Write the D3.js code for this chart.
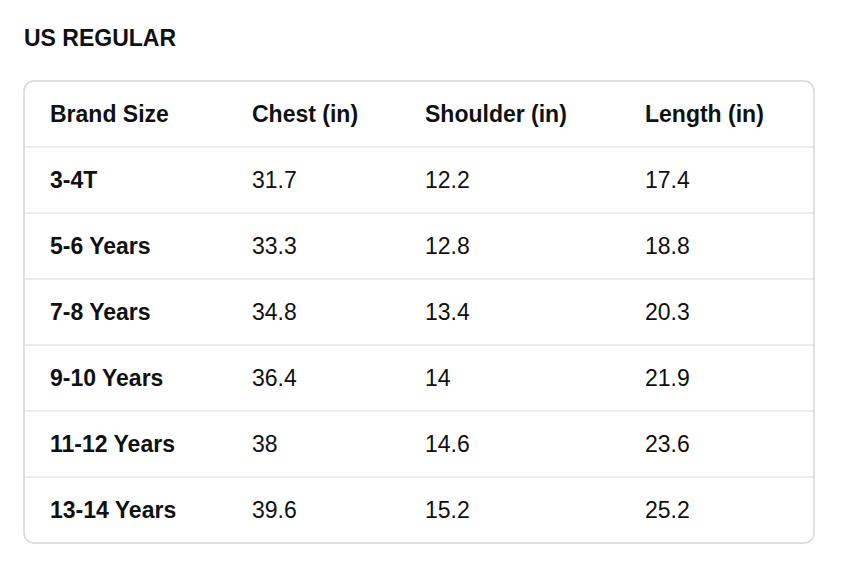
<!DOCTYPE html>
<html><head><meta charset="utf-8">
<script src="https://cdn.jsdelivr.net/npm/d3@7"></script>
<style>body{margin:0;background:#fff}</style>
</head><body><div id="container"></div>
<script>
let w = 846, h = 580;
let title = "US REGULAR";
let headers = ["Brand Size", "Chest (in)", "Shoulder (in)", "Length (in)"];
let sizes = ["3-4T", "5-6 Years", "7-8 Years", "9-10 Years", "11-12 Years", "13-14 Years"];
let chest = ["31.7", "33.3", "34.8", "36.4", "38", "39.6"];
let shoulder = ["12.2", "12.8", "13.4", "14", "14.6", "15.2"];
let lengthIn = ["17.4", "18.8", "20.3", "21.9", "23.6", "25.2"];

let colX = [50, 252, 425, 645];
let tableTop = 81, rowH = 66, tableLeft = 24, tableRight = 814;
let font = "'Liberation Sans', Arial, sans-serif";

let viz = d3.select("#container").append("svg")
  .attr("width", w).attr("height", h);

viz.append("text").attr("x", 24).attr("y", 46)
  .attr("font-family", font).attr("font-weight", "bold")
  .attr("font-size", 23).attr("fill", "#0f1111").text(title);

let nRows = sizes.length + 1;
let y = d3.scaleLinear().domain([0, nRows]).range([tableTop, tableTop + rowH * nRows]);

// row separators
viz.selectAll(".sep").data(d3.range(1, nRows)).enter()
  .append("line")
  .attr("x1", tableLeft).attr("x2", tableRight)
  .attr("y1", d => y(d)).attr("y2", d => y(d))
  .attr("stroke", "#d5d9d9").attr("stroke-width", 1.2);

viz.append("rect").attr("x", tableLeft).attr("y", tableTop)
  .attr("width", tableRight - tableLeft).attr("height", y(nRows) - tableTop)
  .attr("rx", 10).attr("fill", "none")
  .attr("stroke", "#d5d9d9").attr("stroke-width", 1.5);

let rows = [headers].concat(sizes.map((s, i) => [s, chest[i], shoulder[i], lengthIn[i]]));

rows.forEach(function(r, ri){
  viz.selectAll(".r" + ri).data(r).enter()
    .append("text")
    .attr("x", (d, ci) => colX[ci])
    .attr("y", y(ri) + rowH / 2 + 8)
    .attr("font-family", font)
    .attr("font-size", 23)
    .attr("font-weight", (d, ci) => (ri == 0 || ci == 0) ? "bold" : "normal")
    .attr("fill", "#0f1111")
    .text(d => d);
});
</script></body></html>
